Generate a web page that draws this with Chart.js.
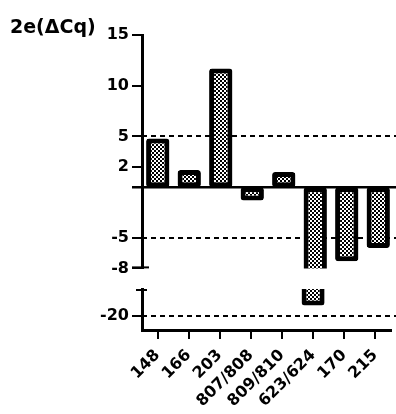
<!DOCTYPE html>
<html>
<head>
<meta charset="utf-8">
<script src="https://cdn.jsdelivr.net/npm/chart.js@4"></script>
<style>
  html, body { margin: 0; padding: 0; background: #fff; }
  #wrap { position: relative; width: 396px; height: 414px; overflow: hidden; }
  #title { position: absolute; left: 10px; top: 15px; font: bold 19px "DejaVu Sans", sans-serif; color: #000; white-space: nowrap; }
  #topBox { position: absolute; left: 0; top: 0; width: 396px; height: 281px; }
  #botBox { position: absolute; left: 0; top: 272px; width: 396px; height: 142px; }
</style>
</head>
<body>
<div id="wrap">
  <div id="topBox"><canvas id="topChart" width="396" height="281"></canvas></div>
  <div id="botBox"><canvas id="botChart" width="396" height="142"></canvas></div>
  <div id="title">2e(ΔCq)</div>
</div>
<script>
const categories = ['148', '166', '203', '807/808', '809/810', '623/624', '170', '215'];
const values = [4.8, 1.7, 11.7, -1.3, 1.5, -19, -7.3, -6.0];
const topTicks = [15, 10, 5, 2, -5, -8];
const bottomTicks = [-20];
const dashedLines = [5, -5, -20];
const topRange = [-8, 15];
const bottomRange = [-21.4, -17.4];

const YFONT = { family: '"DejaVu Sans", sans-serif', size: 16, weight: 'bold' };
const XFONT = { family: '"DejaVu Sans", sans-serif', size: 16, weight: 'bold' };

function makePattern() {
  const c = document.createElement('canvas');
  c.width = 4; c.height = 4;
  const g = c.getContext('2d');
  g.fillStyle = '#fff'; g.fillRect(0, 0, 4, 4);
  g.fillStyle = '#000';
  g.fillRect(0, 0, 2, 2);
  g.fillRect(2, 2, 2, 2);
  return g.createPattern(c, 'repeat');
}
const pattern = makePattern();

const refPlugin = {
  id: 'refLines',
  beforeDatasetsDraw(chart, args, opts) {
    const { ctx, chartArea } = chart;
    const y = chart.scales.y;
    ctx.save();
    ctx.strokeStyle = '#000';
    ctx.lineWidth = 2;
    ctx.setLineDash([5, 4]);
    dashedLines.forEach(v => {
      if (v >= y.min && v <= y.max) {
        const py = Math.round(y.getPixelForValue(v));
        ctx.beginPath();
        ctx.moveTo(chartArea.left, py);
        ctx.lineTo(chart.width, py);
        ctx.stroke();
      }
    });
    if (opts.zero) {
      ctx.setLineDash([]);
      ctx.lineWidth = 2.5;
      const p0 = y.getPixelForValue(0);
      ctx.beginPath();
      ctx.moveTo(chartArea.left - 10, p0);
      ctx.lineTo(chart.width, p0);
      ctx.stroke();
    }
    ctx.restore();
  },
  afterDraw(chart, args, opts) {
    const { ctx, chartArea } = chart;
    ctx.save();
    ctx.strokeStyle = '#000';
    ctx.lineWidth = 2;
    ctx.beginPath();
    if (opts.capBottom) {
      ctx.moveTo(chartArea.left - 10, chartArea.bottom - 1);
      ctx.lineTo(chartArea.left + 7, chartArea.bottom - 1);
    }
    if (opts.capTop) {
      ctx.moveTo(chartArea.left - 6, chartArea.top + 1);
      ctx.lineTo(chartArea.left + 5, chartArea.top + 1);
    }
    ctx.stroke();
    ctx.restore();
  }
};

function dataset() {
  return {
    data: values,
    backgroundColor: pattern,
    borderColor: '#000',
    borderWidth: 5,
    borderRadius: 3,
    borderSkipped: false,
    barPercentage: 0.74,
    categoryPercentage: 1.0
  };
}

function yScale(range, ticks) {
  return {
    min: range[0],
    max: range[1],
    afterBuildTicks(scale) { scale.ticks = ticks.map(v => ({ value: v })); },
    afterFit(scale) { scale.width = 142; },
    ticks: { color: '#000', font: YFONT, padding: 3, callback: v => String(v) },
    grid: { drawOnChartArea: false, drawTicks: true, tickLength: 10, color: '#000', lineWidth: 2 },
    border: { display: true, color: '#000', width: 3 }
  };
}

const common = {
  responsive: false,
  devicePixelRatio: 1,
  animation: false,
  events: []
};

new Chart(document.getElementById('topChart'), {
  type: 'bar',
  data: { labels: categories, datasets: [dataset()] },
  options: Object.assign({}, common, {
    layout: { padding: { top: 35, bottom: 5, right: 2, left: 0 } },
    plugins: { legend: { display: false }, tooltip: { enabled: false },
      refLines: { zero: true, capBottom: true } },
    scales: {
      x: { display: false, offset: true },
      y: yScale(topRange, topTicks)
    }
  }),
  plugins: [refPlugin]
});

new Chart(document.getElementById('botChart'), {
  type: 'bar',
  data: { labels: categories, datasets: [dataset()] },
  options: Object.assign({}, common, {
    layout: { padding: { top: 17, bottom: 0, right: 2, left: 0 } },
    plugins: { legend: { display: false }, tooltip: { enabled: false },
      refLines: { zero: false, capTop: true } },
    scales: {
      x: {
        offset: true,
        afterFit(scale) { scale.height = 84; },
        ticks: { color: '#000', font: XFONT, minRotation: 45, maxRotation: 45, padding: 7, autoSkip: false },
        grid: { drawOnChartArea: false, drawTicks: true, tickLength: 9, color: '#000', lineWidth: 2, offset: false },
        border: { display: true, color: '#000', width: 3 }
      },
      y: yScale(bottomRange, bottomTicks)
    }
  }),
  plugins: [refPlugin]
});
</script>
</body>
</html>
